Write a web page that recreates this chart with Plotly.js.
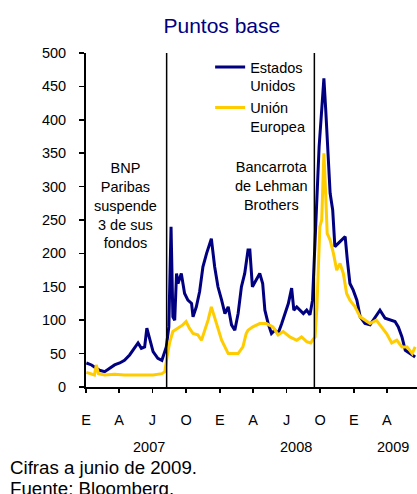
<!DOCTYPE html>
<html>
<head>
<meta charset="utf-8">
<script src="https://cdn.plot.ly/plotly-3.0.1.min.js"></script>
<style>
html,body{margin:0;padding:0;background:#fff;}
#chart{width:417px;height:494px;}
</style>
</head>
<body>
<div id="chart"></div>
<script>
// ---- Data ----
const usDates = ['2007-01-02','2007-01-16','2007-01-24','2007-02-07','2007-02-21','2007-03-06','2007-03-20','2007-04-03','2007-04-16','2007-04-30','2007-05-14','2007-05-23','2007-06-01','2007-06-10','2007-06-16','2007-06-24','2007-07-03','2007-07-16','2007-07-27','2007-08-04','2007-08-08','2007-08-15','2007-08-21','2007-08-26','2007-08-31','2007-09-05','2007-09-09','2007-09-18','2007-09-27','2007-10-06','2007-10-16','2007-10-20','2007-10-29','2007-11-07','2007-11-16','2007-11-26','2007-12-05','2007-12-09','2007-12-18','2007-12-27','2008-01-06','2008-01-15','2008-01-24','2008-02-02','2008-02-11','2008-02-20','2008-02-29','2008-03-09','2008-03-18','2008-03-23','2008-03-30','2008-04-10','2008-04-19','2008-04-27','2008-05-03','2008-05-12','2008-05-21','2008-05-30','2008-06-08','2008-06-18','2008-06-27','2008-07-06','2008-07-15','2008-07-21','2008-07-29','2008-08-07','2008-08-16','2008-08-25','2008-09-03','2008-09-10','2008-09-17','2008-09-23','2008-09-28','2008-10-05','2008-10-11','2008-10-16','2008-10-23','2008-10-28','2008-11-04','2008-11-10','2008-11-19','2008-11-29','2008-12-08','2008-12-14','2008-12-21','2008-12-30','2009-01-09','2009-01-18','2009-01-31','2009-02-14','2009-02-28','2009-03-13','2009-03-27','2009-04-10','2009-04-23','2009-05-02','2009-05-12','2009-05-21','2009-06-04','2009-06-17'];
const usValues = [36,33,30,25,23,28,33,36,40,48,60,66,58,60,88,70,53,43,40,53,60,90,240,105,100,170,155,170,140,130,125,105,120,143,180,200,215,222,180,150,130,110,120,93,85,110,150,170,205,205,150,160,170,155,115,95,80,85,80,95,110,125,148,115,120,115,110,115,108,130,225,310,360,415,462,415,340,290,265,210,215,220,225,190,155,145,130,105,95,93,105,115,103,100,98,90,75,55,50,45];

const euDates = ['2007-01-02','2007-01-16','2007-01-24','2007-01-29','2007-02-04','2007-02-21','2007-03-20','2007-04-16','2007-05-14','2007-06-10','2007-07-03','2007-07-27','2007-08-04','2007-08-10','2007-08-17','2007-08-26','2007-09-09','2007-09-22','2007-10-01','2007-10-10','2007-10-20','2007-11-02','2007-11-12','2007-11-21','2007-11-30','2007-12-09','2007-12-18','2007-12-27','2008-01-06','2008-01-15','2008-01-24','2008-02-07','2008-02-20','2008-03-04','2008-03-13','2008-03-18','2008-03-31','2008-04-19','2008-05-07','2008-05-25','2008-06-08','2008-06-22','2008-07-10','2008-07-29','2008-08-11','2008-08-25','2008-09-05','2008-09-10','2008-09-17','2008-09-22','2008-09-26','2008-09-30','2008-10-05','2008-10-08','2008-10-11','2008-10-15','2008-10-20','2008-10-28','2008-11-06','2008-11-15','2008-11-24','2008-12-03','2008-12-12','2008-12-21','2009-01-04','2009-01-18','2009-01-31','2009-02-14','2009-03-03','2009-03-17','2009-03-31','2009-04-14','2009-04-28','2009-05-12','2009-05-26','2009-06-09','2009-06-17'];
const euValues = [22,20,18,33,20,18,19,18,18,19,18,20,23,45,66,83,88,93,98,88,80,78,70,85,100,120,105,90,70,60,50,50,50,60,80,85,90,95,95,90,78,83,75,70,75,68,66,70,75,120,170,240,250,290,350,300,230,220,200,175,185,170,140,130,120,105,100,95,100,90,80,66,70,60,60,50,60];

const seriesNames = ['Estados<br>Unidos', 'Unión<br>Europea'];
const monthTickDates = ['2007-01-01','2007-04-01','2007-07-01','2007-10-01','2008-01-01','2008-04-01','2008-07-01','2008-10-01','2009-01-01','2009-04-01'];
const monthTickLabels = ['E','A','J','O','E','A','J','O','E','A'];
const yearLabelDates = ['2007-06-23','2008-07-27','2009-04-18'];
const yearLabels = ['2007','2008','2009'];
const eventDates = ['2007-08-09','2008-09-15'];
const eventLabels = ['BNP<br>Paribas<br>suspende<br>3 de sus<br>fondos', 'Bancarrota<br>de Lehman<br>Brothers'];
const eventLabelDates = ['2007-04-19','2008-05-22'];
const eventLabelValues = [271, 301];
const titleText = 'Puntos base';
const footerLines = ['Cifras a junio de 2009.', 'Fuente: Bloomberg.'];

// ---- Styles ----
const FONT = 'Liberation Sans, Arial, sans-serif';
const NAVY = '#000080';
const GOLD = '#FFCC00';
const X_RANGE = ['2007-01-01', '2009-06-22'];

const traces = [
  {x: usDates, y: usValues, name: seriesNames[0], type: 'scatter', mode: 'lines',
   line: {color: NAVY, width: 3}, xaxis: 'x', yaxis: 'y'},
  {x: euDates, y: euValues, name: seriesNames[1], type: 'scatter', mode: 'lines',
   line: {color: GOLD, width: 3}, xaxis: 'x2', yaxis: 'y'}
];

const shapes = eventDates.map(d => ({
  type: 'line', xref: 'x', yref: 'paper', x0: d, x1: d, y0: 0, y1: 1,
  line: {color: '#000', width: 1.5}
}));

const annotations = eventLabels.map((t, i) => ({
  text: t, x: eventLabelDates[i], y: eventLabelValues[i], xref: 'x', yref: 'y',
  showarrow: false, align: 'center', font: {family: FONT, size: 14.5, color: '#000'}
}));
yearLabels.forEach((t, i) => annotations.push({
  text: t, x: yearLabelDates[i], xref: 'x', yref: 'paper', y: -0.179,
  xanchor: 'center', yanchor: 'middle', showarrow: false,
  font: {family: FONT, size: 14.5, color: '#000'}
}));
footerLines.forEach((t, i) => annotations.push({
  text: t, xref: 'paper', yref: 'paper', x: -0.236, y: [-0.24, -0.305][i],
  xanchor: 'left', yanchor: 'middle', showarrow: false,
  font: {family: FONT, size: 18.7, color: '#000'}
}));

const layout = {
  width: 417, height: 494,
  margin: {l: 86, r: 0, t: 53, b: 107, pad: 0},
  paper_bgcolor: '#fff', plot_bgcolor: '#fff',
  font: {family: FONT, size: 14.5, color: '#000'},
  title: {text: titleText, font: {family: FONT, size: 21, color: NAVY},
          xref: 'container', yref: 'container', x: 0.532, y: 0.949,
          xanchor: 'center', yanchor: 'middle'},
  showlegend: true,
  legend: {x: 0.375, y: 1.006, xanchor: 'left', yanchor: 'top', valign: 'top',
           bgcolor: 'rgba(0,0,0,0)', borderwidth: 0, tracegroupgap: 0,
           font: {family: FONT, size: 14.5, color: '#000'}},
  // month labels sit below the axis (transparent long ticks give the offset)
  xaxis: {
    type: 'date', range: X_RANGE,
    tickmode: 'array', tickvals: monthTickDates, ticktext: monthTickLabels,
    ticks: 'outside', ticklen: 19, tickcolor: 'rgba(0,0,0,0)',
    showline: true, linecolor: '#000', linewidth: 2,
    showgrid: false, zeroline: false,
    tickfont: {family: FONT, size: 14.5, color: '#000'}
  },
  // visible short quarter ticks
  xaxis2: {
    type: 'date', range: X_RANGE, matches: 'x', overlaying: 'x', anchor: 'y', side: 'bottom',
    tickmode: 'array', tickvals: monthTickDates, ticktext: monthTickDates.map(() => ''),
    ticks: 'outside', ticklen: 5, tickwidth: 1.5, tickcolor: '#000',
    showline: false, showgrid: false, zeroline: false, showticklabels: true
  },
  yaxis: {
    range: [0, 500], tickmode: 'linear', tick0: 0, dtick: 50,
    ticks: 'outside', ticklen: 5, tickwidth: 1.5, tickcolor: '#000',
    showline: true, linecolor: '#000', linewidth: 2,
    showgrid: false, zeroline: false, ticklabelstandoff: 10,
    tickfont: {family: FONT, size: 14.5, color: '#000'}
  },
  shapes: shapes,
  annotations: annotations
};

Plotly.newPlot('chart', traces, layout, {staticPlot: true, displayModeBar: false});
</script>
</body>
</html>
